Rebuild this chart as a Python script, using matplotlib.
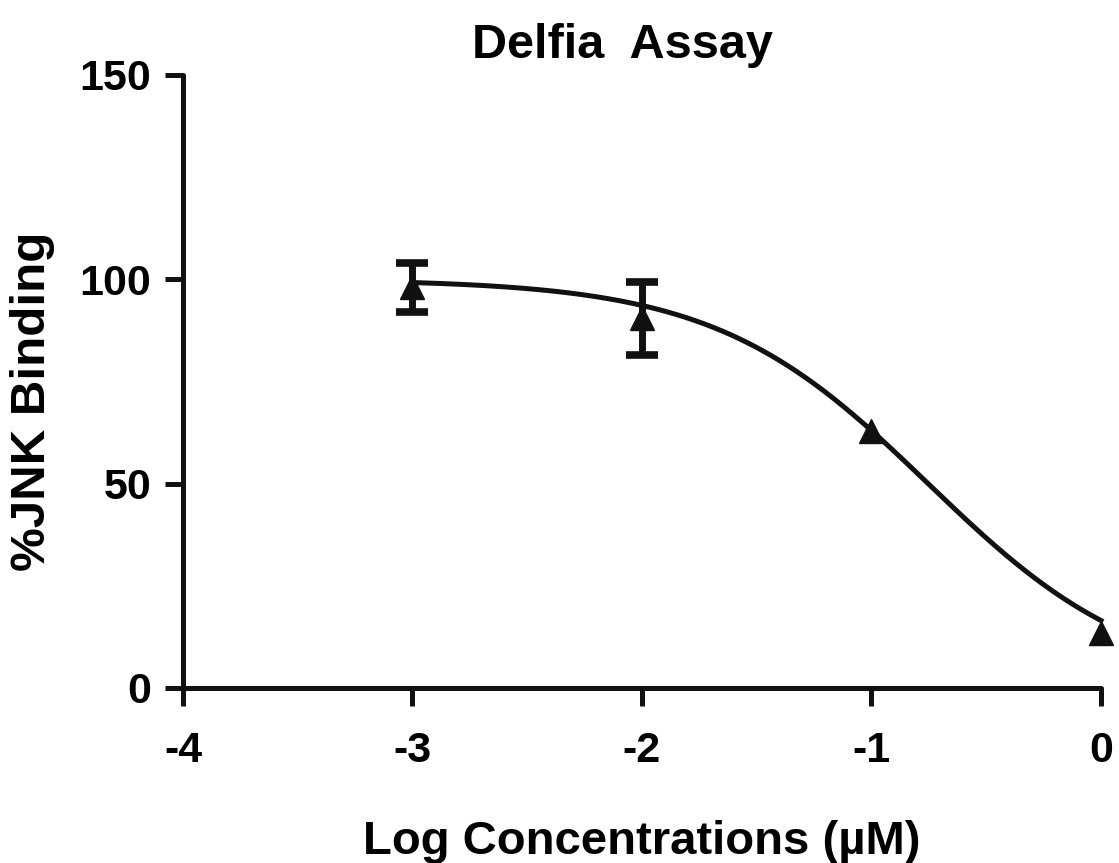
import matplotlib.pyplot as plt
import numpy as np

plt.rcParams['font.family'] = ['Liberation Sans', 'DejaVu Sans']
plt.rcParams['font.weight'] = 'bold'
plt.rcParams['axes.labelweight'] = 'bold'
plt.rcParams['axes.titleweight'] = 'bold'

# measured points
log_conc = [-3, -2, -1, 0]
binding = [98.0, 90.5, 63.0, 13.5]
err = [6.1, 8.9, 0, 0]

# fitted sigmoid (top, bottom, logIC50, hill)
fit_top, fit_bottom, fit_logic50, fit_hill = 100.0, 0.0, -0.753, 0.935

fig = plt.figure(figsize=(11.19, 8.63), dpi=100)
ax = fig.add_axes([0.1635, 0.2028, 0.8204, 0.7103])

xs = np.linspace(-3, 0, 300)
ys = fit_bottom + (fit_top - fit_bottom) / (1 + 10 ** ((xs - fit_logic50) * fit_hill))
ax.plot(xs, ys, color='#111111', lw=3.6, clip_on=False, zorder=2)

# error bars only where there is spread
has_err = [i for i, e in enumerate(err) if e > 0]
eb = ax.errorbar([log_conc[i] for i in has_err], [binding[i] for i in has_err],
                 yerr=[err[i] for i in has_err], fmt='none', ecolor='#111111',
                 elinewidth=5, capsize=11.5, capthick=5.5, clip_on=False, zorder=3)
for cap in eb[1]:
    cap.set_solid_capstyle('round')
ax.plot(log_conc, binding, '^', color='#111111', ms=17, clip_on=False, zorder=4)

ax.set_xlim(-4, 0)
ax.set_ylim(0, 150)
ax.set_xticks([-4, -3, -2, -1, 0])
ax.set_yticks([0, 50, 100, 150])
ax.set_xticklabels(['-4', '-3', '-2', '-1', '0'])

for s in ['top', 'right']:
    ax.spines[s].set_visible(False)
for s in ['left', 'bottom']:
    ax.spines[s].set_linewidth(3.6)
    ax.spines[s].set_color('#111111')
    ax.spines[s].set_capstyle('round')
ax.tick_params(width=3.6, length=13, color='#111111', labelsize=31)
ax.tick_params(axis='x', pad=18)
ax.tick_params(axis='y', pad=10)

ax.set_xlabel('Log Concentrations (\u00b5M)', fontsize=34, labelpad=35)
ax.set_ylabel('%JNK Binding', fontsize=35.5)
ax.yaxis.set_label_coords(-0.139, 0.468)
ax.set_title('Delfia  Assay', fontsize=35, pad=12, x=0.479)

fig.savefig('out.png', dpi=100)
